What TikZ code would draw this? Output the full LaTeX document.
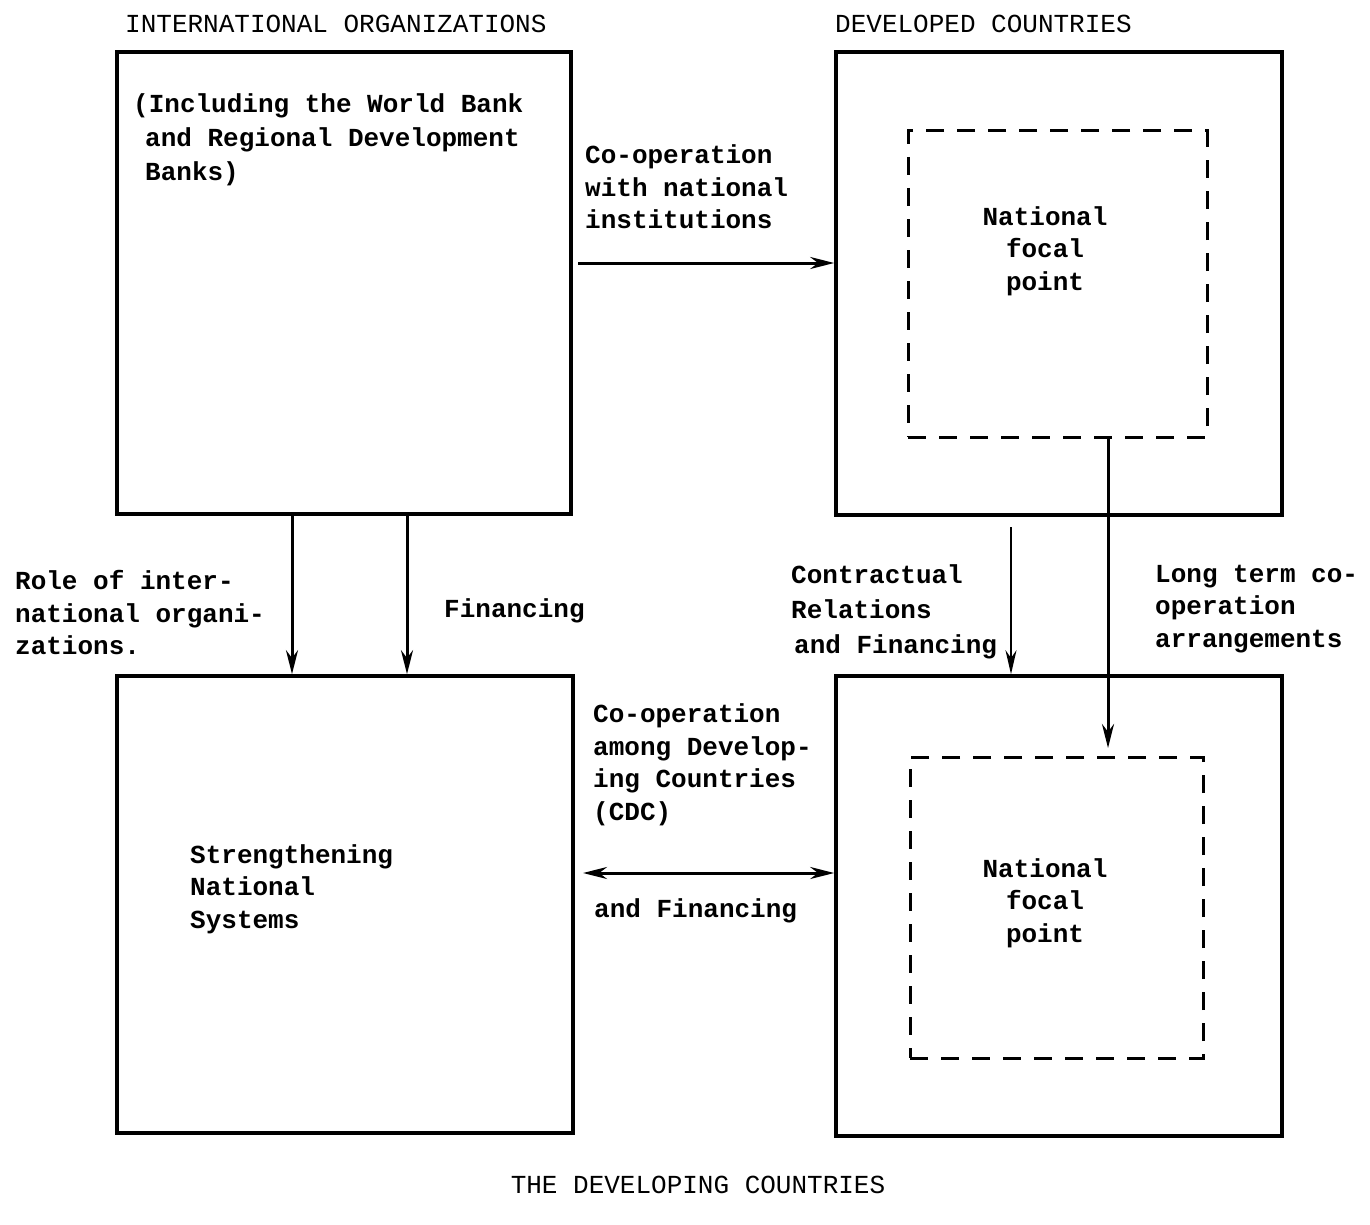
\documentclass[tikz,border=0pt]{standalone}
\usepackage{fontspec}
\setmainfont{Liberation Mono}
\usetikzlibrary{arrows.meta}
\tikzset{
  box/.style={draw, line width=3.6pt, inner sep=0pt},
  dbox/.style={draw, line width=3pt, dash pattern=on 18pt off 13pt, inner sep=0pt},
  lbl/.style={font=\bfseries\fontsize{26}{32.5}\selectfont, align=left, anchor=west, inner sep=0pt},
  ttl/.style={font=\fontsize{26}{32.5}\selectfont, anchor=west, inner sep=0pt},
  arr/.style={line width=3pt, -{Stealth[length=24pt,width=12pt]}},
  darr/.style={line width=3pt, {Stealth[length=24pt,width=12pt]}-{Stealth[length=24pt,width=12pt]}},
  tarr/.style={line width=2.2pt, -{Stealth[length=24pt,width=11pt]}},
}
\begin{document}
\begin{tikzpicture}[x=1pt,y=-1pt]
\useasboundingbox (0,0) rectangle (1370,1225);
% boxes
\node[box, minimum width=454pt, minimum height=462pt] (io) at (344,283) {};
\node[box, minimum width=446pt, minimum height=463pt] (dev) at (1059,283.5) {};
\node[dbox, minimum width=299pt, minimum height=306pt] (ndev) at (1057.5,284) {};
\node[box, minimum width=456pt, minimum height=457pt] (dvg) at (345,904.5) {};
\node[box, minimum width=446pt, minimum height=460pt] (dvgr) at (1059,906) {};
\node[dbox, minimum width=293pt, minimum height=301pt] (ndvg) at (1056.5,907.5) {};
% titles
\node[ttl] (t1) at (125,24) {INTERNATIONAL ORGANIZATIONS};
\node[ttl] (t2) at (835,24) {DEVELOPED COUNTRIES};
\node[ttl, anchor=center] (t3) at (698,1185) {THE DEVELOPING COUNTRIES};
% labels
\node[lbl, font=\bfseries\fontsize{26}{34}\selectfont] (incl) at (133,139.5) {(Including the World Bank\\\hspace*{12pt}and Regional Development\\\hspace*{12pt}Banks)};
\node[lbl] (coop) at (585,187) {Co-operation\\with national\\institutions};
\node[lbl, align=center, anchor=center] (nfp1) at (1045,251) {National\\focal\\point};
\node[lbl] (role) at (15,613) {Role of inter-\\national organi-\\zations.};
\node[lbl] (fin) at (444,611) {Financing};
\node[lbl, font=\bfseries\fontsize{26}{35}\selectfont] (contr) at (791,612) {Contractual\\Relations\\\hspace*{3pt}and Financing};
\node[lbl] (long) at (1155,609) {Long term co-\\operation\\arrangements};
\node[lbl] (cdc) at (593,765) {Co-operation\\among Develop-\\ing Countries\\(CDC)};
\node[lbl] (andfin) at (594,911) {and Financing};
\node[lbl] (str) at (190,889) {Strengthening\\National\\Systems};
\node[lbl, align=center, anchor=center] (nfp2) at (1045,903) {National\\focal\\point};
% connectors
\coordinate (a1s) at (578,263);
\draw[arr] (a1s) -- (a1s -| dev.west);
\draw[arr] (io.south -| 292,0) -- (dvg.north -| 292,0);
\draw[arr] (io.south -| 407,0) -- (dvg.north -| 407,0);
\coordinate (cs) at (1011,527);
\draw[tarr] (cs) -- (cs |- dvgr.north);
\coordinate (le) at (1108,748);
\draw[arr] (ndev.south -| le) -- (le);
\coordinate (ds) at (583,873);
\draw[darr] (ds) -- (ds -| dvgr.west);
\end{tikzpicture}
\end{document}
